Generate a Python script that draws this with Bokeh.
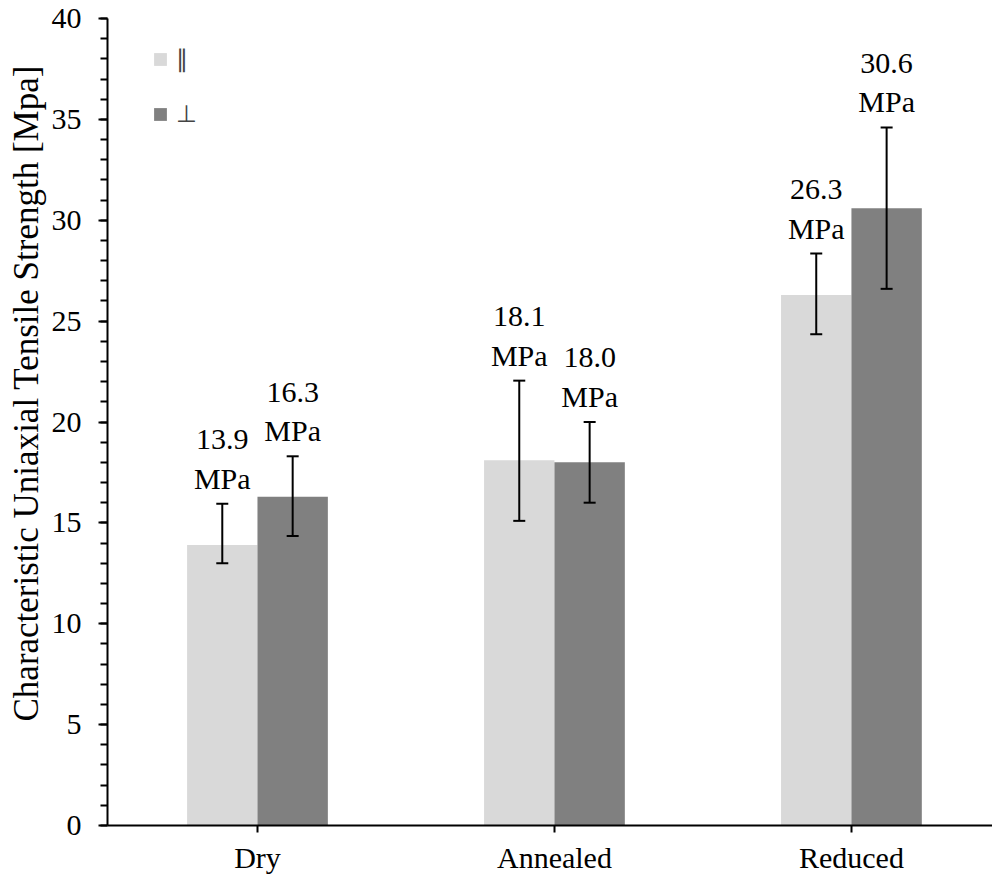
from bokeh.plotting import figure
from bokeh.models import (ColumnDataSource, Whisker, TeeHead, Legend, LegendItem,
                          Title, FixedTicker, Range1d)
from bokeh.core.properties import value
from bokeh.embed import file_html
from bokeh.resources import INLINE

categories = ["Dry", "Annealed", "Reduced"]
series_names = ["\u2225", "\u22a5"]
parallel = [13.9, 18.1, 26.3]
perpendicular = [16.3, 18.0, 30.6]
parallel_low = [13.0, 15.1, 24.35]
parallel_high = [15.95, 22.05, 28.35]
perp_low = [14.35, 16.0, 26.6]
perp_high = [18.3, 20.0, 34.6]
y_ticks = [0, 5, 10, 15, 20, 25, 30, 35, 40]
y_label = "Characteristic Uniaxial Tensile Strength [Mpa]"

FONT = "Liberation Serif"
BAR_W = 0.237
idx = list(range(len(categories)))

p = figure(width=992, height=882, output_backend="svg", toolbar_location=None,
           x_range=Range1d(-0.505, 2.475), y_range=Range1d(0, 40),
           min_border_left=107, min_border_right=0, min_border_top=18,
           min_border_bottom=57)
p.outline_line_color = None
p.xgrid.visible = False
p.ygrid.visible = False
p.background_fill_color = "white"
p.border_fill_color = "white"

src_par = ColumnDataSource(dict(
    x=[i - BAR_W / 2 for i in idx], top=parallel, lower=parallel_low, upper=parallel_high,
    label=[f"{v:.1f}\nMPa" for v in parallel]))
src_perp = ColumnDataSource(dict(
    x=[i + BAR_W / 2 for i in idx], top=perpendicular, lower=perp_low, upper=perp_high,
    label=[f"{v:.1f}\nMPa" for v in perpendicular]))

r_par = p.vbar(x="x", top="top", bottom=0, width=BAR_W, source=src_par,
               fill_color="#d9d9d9", line_color=None)
r_perp = p.vbar(x="x", top="top", bottom=0, width=BAR_W, source=src_perp,
                fill_color="#808080", line_color=None)

for src in (src_par, src_perp):
    w = Whisker(source=src, base="x", lower="lower", upper="upper",
                line_color="black", line_width=2, level="annotation",
                upper_head=TeeHead(size=12, line_width=2, line_color="black"),
                lower_head=TeeHead(size=12, line_width=2, line_color="black"))
    p.add_layout(w)
    p.text(x="x", y="upper", text="label", source=src, text_align="center",
           text_baseline="bottom", y_offset=-9, text_font=value(FONT),
           text_font_size="30px", text_color="black", text_line_height=1.2)

# axes
p.xaxis.ticker = FixedTicker(ticks=idx)
p.xaxis.major_label_overrides = {i: c for i, c in zip(idx, categories)}
p.yaxis.ticker = FixedTicker(ticks=y_ticks, minor_ticks=list(range(0, 41)))
for ax in (p.xaxis, p.yaxis):
    ax.axis_line_color = "black"
    ax.axis_line_width = 2
    ax.major_tick_line_color = "black"
    ax.major_tick_line_width = 2
    ax.minor_tick_line_color = "black"
    ax.minor_tick_line_width = 2
    ax.major_tick_in = 0
    ax.minor_tick_in = 0
    ax.major_label_text_font = FONT
    ax.major_label_text_font_size = "30px"
    ax.major_label_text_color = "black"
p.xaxis.major_tick_out = 7
p.xaxis.minor_tick_out = 0
p.xaxis.minor_tick_line_color = None
p.xaxis.major_label_standoff = 8
p.yaxis.major_tick_out = 9
p.yaxis.minor_tick_out = 7
p.yaxis.major_label_standoff = 17

ytitle = Title(text=y_label, align="left", offset=104, standoff=6,
               text_font=FONT, text_font_size="35px", text_font_style="normal",
               text_color="black")
p.add_layout(ytitle, "left")

legend = Legend(items=[LegendItem(label=series_names[0], renderers=[r_par]),
                       LegendItem(label=series_names[1], renderers=[r_perp])],
                location=(45, 697), orientation="vertical", padding=0, margin=0,
                spacing=27, glyph_width=16, glyph_height=16, label_height=26,
                label_standoff=8, label_text_font=FONT, label_text_font_size="24px",
                background_fill_alpha=0, border_line_color=None)
p.add_layout(legend)

open("out.html", "w").write(file_html(p, INLINE))
